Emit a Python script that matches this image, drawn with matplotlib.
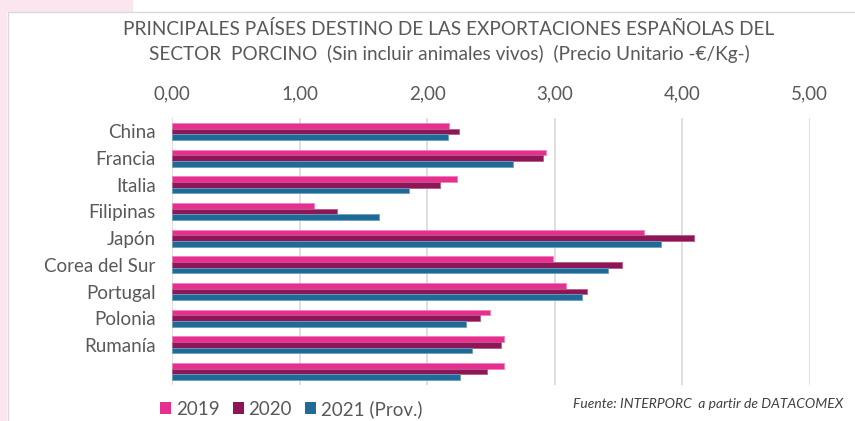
import matplotlib
matplotlib.use("Agg")
import matplotlib.pyplot as plt
from matplotlib.patches import Rectangle
import numpy as np

# Data: unit price (€/kg) of Spanish pork exports by destination
countries = ["China", "Francia", "Italia", "Filipinas", "Japón",
             "Corea del Sur", "Portugal", "Polonia", "Rumanía", ""]
v2019 = [2.17, 2.93, 2.23, 1.11, 3.70, 2.99, 3.09, 2.49, 2.60, 2.60]
v2020 = [2.25, 2.91, 2.10, 1.29, 4.09, 3.53, 3.25, 2.41, 2.58, 2.47]
v2021 = [2.16, 2.67, 1.86, 1.62, 3.83, 3.42, 3.21, 2.30, 2.35, 2.26]
series_labels = ["2019", "2020", "2021 (Prov.)"]
xticks = [0, 1, 2, 3, 4, 5]
xtick_labels = ["0,00", "1,00", "2,00", "3,00", "4,00", "5,00"]

colors = ["#e6308f", "#8e1556", "#1f6a96"]
edge_colors = ["#f27fbb", "#b45c8a", "#6b9fc0"]
text_gray = "#595959"

plt.rcParams["font.family"] = ["Lato", "DejaVu Sans"]

W, H = 855, 421
fig = plt.figure(figsize=(W / 100, H / 100), dpi=100, facecolor="white")

# page background and chart frame
fig.patches.append(Rectangle((0, 0), 7 / W, 1, transform=fig.transFigure,
                             facecolor="#fbe6ef", edgecolor="none", zorder=0))
fig.patches.append(Rectangle((0, 1 - 12 / H), 133 / W, 12 / H, transform=fig.transFigure,
                             facecolor="#fbe6ef", edgecolor="none", zorder=0))
fig.patches.append(Rectangle((7.5 / W, -0.01), 1, 1 - 12.5 / H + 0.01, transform=fig.transFigure,
                             facecolor="white", edgecolor="#d9d9d9", linewidth=1.0, zorder=1))

ax = fig.add_axes([172.3 / W, 1 - 385 / H, (809.7 - 172.3) / W, (385 - 118) / H])
ax.set_facecolor("none")
ax.set_zorder(2)

y = np.arange(len(countries))
h = 0.213
for i, (vals, c, ec, lab) in enumerate(zip([v2019, v2020, v2021], colors, edge_colors, series_labels)):
    ax.barh(y + (i - 1) * h, vals, height=h, color=c, edgecolor=ec, linewidth=0.6,
            label=lab, zorder=3)

ax.set_xlim(0, 5)
ax.set_ylim(len(countries) - 0.5, -0.5)
ax.set_xticks(xticks)
ax.set_xticklabels(xtick_labels)
ax.xaxis.tick_top()
ax.tick_params(axis="x", length=0, pad=11, labelsize=13.5, labelcolor=text_gray)
ax.set_yticks(y)
ax.set_yticklabels(countries)
ax.tick_params(axis="y", length=0, pad=12, labelsize=13.5, labelcolor=text_gray)
ax.grid(axis="x", color="#d9d9d9", linewidth=1.2, zorder=0)
for s in ax.spines.values():
    s.set_visible(False)

fig.text(449 / W, 1 - 29 / H,
         "PRINCIPALES PAÍSES DESTINO DE LAS EXPORTACIONES ESPAÑOLAS DEL",
         ha="center", va="center", fontsize=13.7, color=text_gray)
fig.text(449 / W, 1 - 54 / H,
         "SECTOR  PORCINO  (Sin incluir animales vivos)  (Precio Unitario -€/Kg-)",
         ha="center", va="center", fontsize=13.7, color=text_gray)

leg = fig.legend(loc="center left", bbox_to_anchor=(143 / W, 1 - 409 / H), ncol=3,
                 frameon=False, fontsize=13.5, handlelength=0.6, handleheight=0.6,
                 handletextpad=0.25, columnspacing=0.7, labelcolor=text_gray)
for p in leg.get_patches():
    p.set_edgecolor("none")

fig.text(843 / W, 1 - 404 / H, "Fuente: INTERPORC  a partir de DATACOMEX",
         ha="right", va="center", fontsize=10, style="italic", color="#404040")

fig.savefig("out.png", dpi=100, facecolor=fig.get_facecolor())
